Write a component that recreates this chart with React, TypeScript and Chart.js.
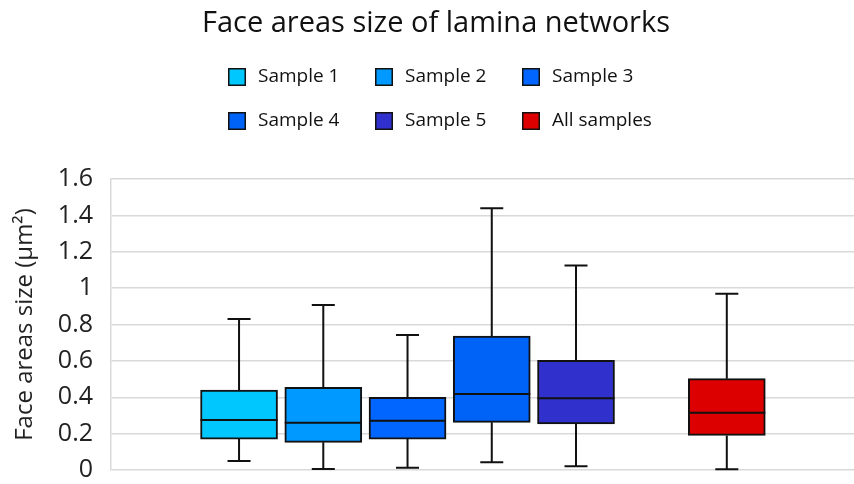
import React, { useEffect, useRef } from "react";
import { Chart, registerables } from "chart.js";

Chart.register(...registerables);

const categories = ["Sample 1", "Sample 2", "Sample 3", "Sample 4", "Sample 5", "All samples"];
const minValues = [0.05, 0.005, 0.013, 0.042, 0.02, 0.004];
const q1Values = [0.17, 0.152, 0.17, 0.262, 0.253, 0.19];
const medianValues = [0.275, 0.26, 0.271, 0.418, 0.394, 0.315];
const q3Values = [0.44, 0.455, 0.40, 0.737, 0.603, 0.502];
const maxValues = [0.83, 0.907, 0.742, 1.439, 1.125, 0.969];
const yTicks = [0, 0.2, 0.4, 0.6, 0.8, 1, 1.2, 1.4, 1.6];

const colors = ["#00C8FF", "#0099FF", "#0066FF", "#0063F8", "#3030CC", "#DD0000"];
const FONT = "'Open Sans', 'Noto Sans', sans-serif";
const GROUP_GAP = 0.79;

const slotOf = (i: number) => (i < 5 ? i : i + GROUP_GAP);

const boxPlugin = {
  id: "boxWhiskers",
  afterDatasetsDraw(chart: any) {
    const { ctx, scales } = chart;
    const xs = scales.x;
    const ys = scales.y;
    const meta = chart.getDatasetMeta(0);
    ctx.save();
    ctx.strokeStyle = "#111";
    ctx.lineWidth = 2;
    categories.forEach((_, i) => {
      const el = meta.data[i];
      const cx = el ? el.x : xs.getPixelForValue(slotOf(i));
      const half = el ? el.width / 2 : 38;
      const yMin = ys.getPixelForValue(minValues[i]);
      const yQ1 = ys.getPixelForValue(q1Values[i]);
      const yMed = ys.getPixelForValue(medianValues[i]);
      const yQ3 = ys.getPixelForValue(q3Values[i]);
      const yMax = ys.getPixelForValue(maxValues[i]);
      const cap = 11.5;
      ctx.beginPath();
      ctx.moveTo(cx, yQ3);
      ctx.lineTo(cx, yMax);
      ctx.moveTo(cx - cap, yMax);
      ctx.lineTo(cx + cap, yMax);
      ctx.moveTo(cx, yQ1);
      ctx.lineTo(cx, yMin);
      ctx.moveTo(cx - cap, yMin);
      ctx.lineTo(cx + cap, yMin);
      ctx.moveTo(cx - half, yMed);
      ctx.lineTo(cx + half, yMed);
      ctx.stroke();
    });
    ctx.restore();
  },
};

const legendPlugin = {
  id: "gridLegend",
  afterDraw(chart: any) {
    const { ctx } = chart;
    ctx.save();
    const colX = [228, 375, 522];
    const rowY = [77, 121];
    ctx.font = `19px ${FONT}`;
    ctx.textBaseline = "middle";
    ctx.textAlign = "left";
    categories.forEach((name, i) => {
      const x = colX[i % 3];
      const y = rowY[Math.floor(i / 3)];
      ctx.fillStyle = colors[i];
      ctx.fillRect(x, y - 9, 18, 18);
      ctx.strokeStyle = "#111";
      ctx.lineWidth = 1.5;
      ctx.strokeRect(x + 0.75, y - 8.25, 16.5, 16.5);
      ctx.fillStyle = "#111";
      ctx.fillText(name, x + 30, y);
    });
    ctx.restore();
  },
};

export default function App() {
  const ref = useRef<HTMLCanvasElement>(null);
  useEffect(() => {
    document.body.style.margin = "0";
    const chart = new Chart(ref.current!, {
      type: "bar",
      data: {
        datasets: [
          {
            data: categories.map((_, i) => ({ x: slotOf(i), y: [q1Values[i], q3Values[i]] })) as any,
            backgroundColor: colors,
            borderColor: "#111",
            borderWidth: 2,
            borderSkipped: false,
            barThickness: 77,
          },
        ],
      },
      options: {
        animation: false,
        responsive: false,
        layout: { padding: { top: 179, bottom: 14, left: 0, right: 0 } },
        plugins: {
          legend: { display: false },
          tooltip: { enabled: false },
          title: { display: false },
        },
        scales: {
          x: {
            type: "linear",
            min: -1.52,
            max: 7.3,
            offset: false,
            display: false,
          },
          y: {
            min: 0,
            max: 1.6,
            afterBuildTicks: (s: any) => {
              s.ticks = yTicks.map((v) => ({ value: v }));
            },
            afterFit: (s: any) => {
              s.width = 111;
              s.paddingTop = 0;
              s.paddingBottom = 0;
            },
            grid: { color: "#d9d9d9", lineWidth: 1.5, drawTicks: false },
            border: { display: true, color: "#d9d9d9", width: 1.5 },
            ticks: {
              font: { size: 25, family: FONT },
              color: "#222",
              padding: 18,
              callback: (v: any) => String(v),
            },
            title: {
              display: true,
              text: "Face areas size (µm²)",
              font: { size: 24, family: FONT },
              color: "#222",
              padding: { top: 11, bottom: 0 },
            },
          },
        },
      },
      plugins: [
        boxPlugin,
        legendPlugin,
        {
          id: "topTitle",
          afterDraw(c: any) {
            const { ctx } = c;
            ctx.save();
            ctx.font = `29px ${FONT}`;
            ctx.fillStyle = "#111";
            ctx.textAlign = "center";
            ctx.textBaseline = "middle";
            ctx.fillText("Face areas size of lamina networks", 436, 24);
            ctx.restore();
          },
        },
      ],
    });
    return () => chart.destroy();
  }, []);
  return (
    <div style={{ width: 854, height: 484, background: "#fff" }}>
      <canvas ref={ref} width={854} height={484} />
    </div>
  );
}
